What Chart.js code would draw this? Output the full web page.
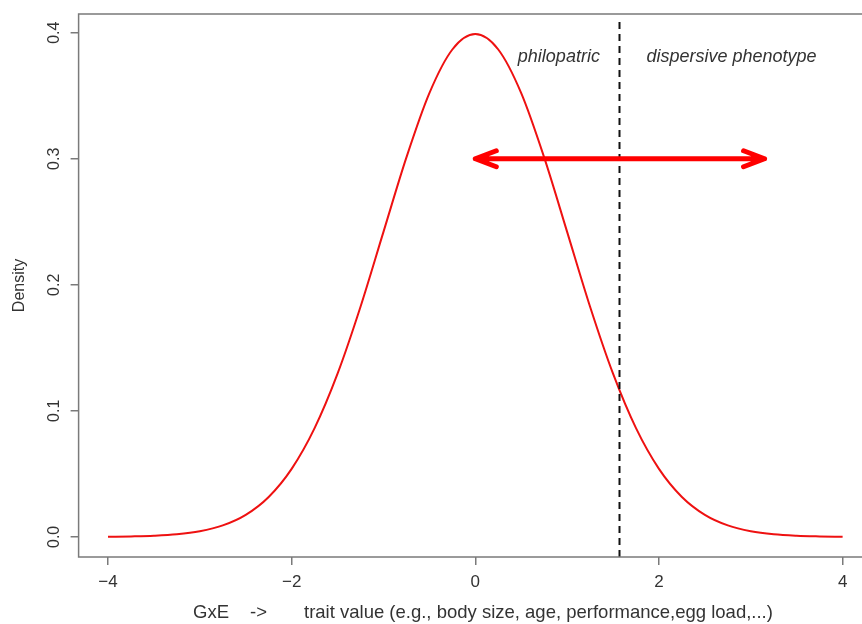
<!DOCTYPE html>
<html>
<head>
<meta charset="utf-8">
<script src="https://cdn.jsdelivr.net/npm/chart.js@4.4.0/dist/chart.umd.min.js"></script>
<style>
  html, body { margin: 0; padding: 0; background: #fff; overflow: hidden; width: 862px; height: 624px; }
  #wrap { position: relative; width: 880px; height: 624px; }
</style>
</head>
<body>
<div id="wrap"><canvas id="densityChart"></canvas></div>
<script>
// trait values and the density
const traitX = [
  -4, -3.75, -3.5, -3.25, -3, -2.75, -2.5, -2.25, -2, -1.75, -1.5, -1.25, -1, -0.75, -0.5, -0.25,
  0, 0.25, 0.5, 0.75, 1, 1.25, 1.5, 1.75, 2, 2.25, 2.5, 2.75, 3, 3.25, 3.5, 3.75, 4
];
const densityY = [
  0.0001, 0.0004, 0.0009, 0.0020, 0.0044, 0.0091, 0.0175, 0.0317, 0.0540, 0.0863, 0.1295, 0.1826, 0.2420, 0.3011, 0.3521, 0.3867,
  0.3989, 0.3867, 0.3521, 0.3011, 0.2420, 0.1826, 0.1295, 0.0863, 0.0540, 0.0317, 0.0175, 0.0091, 0.0044, 0.0020, 0.0009, 0.0004, 0.0001
];

const xTicks = [-4, -2, 0, 2, 4];
const yTicks = [0, 0.1, 0.2, 0.3, 0.4];
const yTickLabels = ["0.0", "0.1", "0.2", "0.3", "0.4"];
const xTickLabels = ["\u22124", "\u22122", "0", "2", "4"];

const thresholdX = 1.57;        // dashed cut-off
const arrowFrom = [0, 0.3];
const arrowTo = [3.15, 0.3];

const notes = [
  { text: "philopatric", x: 0.91, y: 0.381 },
  { text: "dispersive phenotype", x: 2.79, y: 0.381 },
];

const AXIS_GREY = "#7a7a7a";
const TEXT_COL = "#333333";
const FONT = "Liberation Sans, Arial, sans-serif";

const extras = {
  id: "extras",
  afterDatasetsDraw(chart) {
    const { ctx, chartArea } = chart;
    const xs = chart.scales.x;
    const ys = chart.scales.y;
    ctx.save();

    // vertical dashed line
    const vx = Math.round(xs.getPixelForValue(thresholdX)) + 0.5;
    ctx.strokeStyle = "#111";
    ctx.lineWidth = 2;
    ctx.setLineDash([7, 5]);
    ctx.beginPath();
    ctx.moveTo(vx, chartArea.top + 8);
    ctx.lineTo(vx, chartArea.bottom);
    ctx.stroke();
    ctx.setLineDash([]);

    // double headed arrow
    const ax0 = xs.getPixelForValue(arrowFrom[0]);
    const ay0 = ys.getPixelForValue(arrowFrom[1]);
    const ax1 = xs.getPixelForValue(arrowTo[0]);
    const ay1 = ys.getPixelForValue(arrowTo[1]);
    ctx.strokeStyle = "#ff0000";
    ctx.lineWidth = 5;
    ctx.lineCap = "round";
    ctx.lineJoin = "round";
    ctx.beginPath();
    ctx.moveTo(ax0, ay0);
    ctx.lineTo(ax1, ay1);
    ctx.moveTo(ax0 + 21, ay0 - 8);
    ctx.lineTo(ax0, ay0);
    ctx.lineTo(ax0 + 21, ay0 + 8);
    ctx.moveTo(ax1 - 21, ay1 - 8);
    ctx.lineTo(ax1, ay1);
    ctx.lineTo(ax1 - 21, ay1 + 8);
    ctx.stroke();

    // italic notes
    ctx.fillStyle = TEXT_COL;
    ctx.font = "italic 18px " + FONT;
    ctx.textAlign = "center";
    ctx.textBaseline = "middle";
    notes.forEach(n => {
      ctx.fillText(n.text, xs.getPixelForValue(n.x), ys.getPixelForValue(n.y));
    });
    ctx.restore();
  },
  afterDraw(chart) {
    const { ctx, chartArea } = chart;
    const xs = chart.scales.x;
    const ys = chart.scales.y;
    ctx.save();

    // plot box
    ctx.strokeStyle = AXIS_GREY;
    ctx.lineWidth = 1.5;
    ctx.strokeRect(chartArea.left, chartArea.top, chartArea.right - chartArea.left, chartArea.bottom - chartArea.top);

    ctx.fillStyle = TEXT_COL;
    ctx.textAlign = "center";
    ctx.textBaseline = "middle";
    ctx.font = "17px " + FONT;
    xTicks.forEach((v, i) => {
      ctx.fillText(xTickLabels[i], xs.getPixelForValue(v), chartArea.bottom + 25);
    });
    ctx.font = "16px " + FONT;
    yTicks.forEach((v, i) => {
      ctx.save();
      ctx.translate(chartArea.left - 24, ys.getPixelForValue(v));
      ctx.rotate(-Math.PI / 2);
      ctx.fillText(yTickLabels[i], 0, 0);
      ctx.restore();
    });

    // axis titles
    ctx.save();
    ctx.translate(20, (chartArea.top + chartArea.bottom) / 2);
    ctx.rotate(-Math.PI / 2);
    ctx.fillText("Density", 0, 0);
    ctx.restore();

    ctx.font = "18.5px " + FONT;
    ctx.textAlign = "left";
    const ty = chartArea.bottom + 56;
    ctx.fillText("GxE", 193, ty);
    ctx.fillText("->", 250, ty);
    ctx.fillText("trait value (e.g., body size, age, performance,egg load,...)", 304, ty);
    ctx.restore();
  },
};

const ctx = document.getElementById("densityChart").getContext("2d");
new Chart(ctx, {
  type: "scatter",
  data: {
    datasets: [{
      data: traitX.map((x, i) => ({ x: x, y: densityY[i] })),
      showLine: true,
      borderColor: "#ee1111",
      borderWidth: 2,
      pointRadius: 0,
      cubicInterpolationMode: "monotone",
      fill: false,
    }],
  },
  options: {
    responsive: true,
    maintainAspectRatio: false,
    animation: false,
    layout: { padding: { top: 14, right: 8, left: 0, bottom: 0 } },
    plugins: {
      legend: { display: false },
      tooltip: { enabled: false },
    },
    scales: {
      x: {
        type: "linear",
        min: -4.32,
        max: 4.32,
        afterBuildTicks(scale) { scale.ticks = xTicks.map(v => ({ value: v })); },
        afterFit(scale) { scale.height = 67; },
        ticks: { display: false },
        border: { display: false },
        grid: { drawOnChartArea: false, tickLength: 8, color: AXIS_GREY, lineWidth: 1.5 },
      },
      y: {
        type: "linear",
        min: -0.01596,
        max: 0.41486,
        afterBuildTicks(scale) { scale.ticks = yTicks.map(v => ({ value: v })); },
        afterFit(scale) { scale.width = 78.6; },
        ticks: { display: false },
        border: { display: false },
        grid: { drawOnChartArea: false, tickLength: 8, color: AXIS_GREY, lineWidth: 1.5 },
      },
    },
  },
  plugins: [extras],
});
</script>
</body>
</html>
